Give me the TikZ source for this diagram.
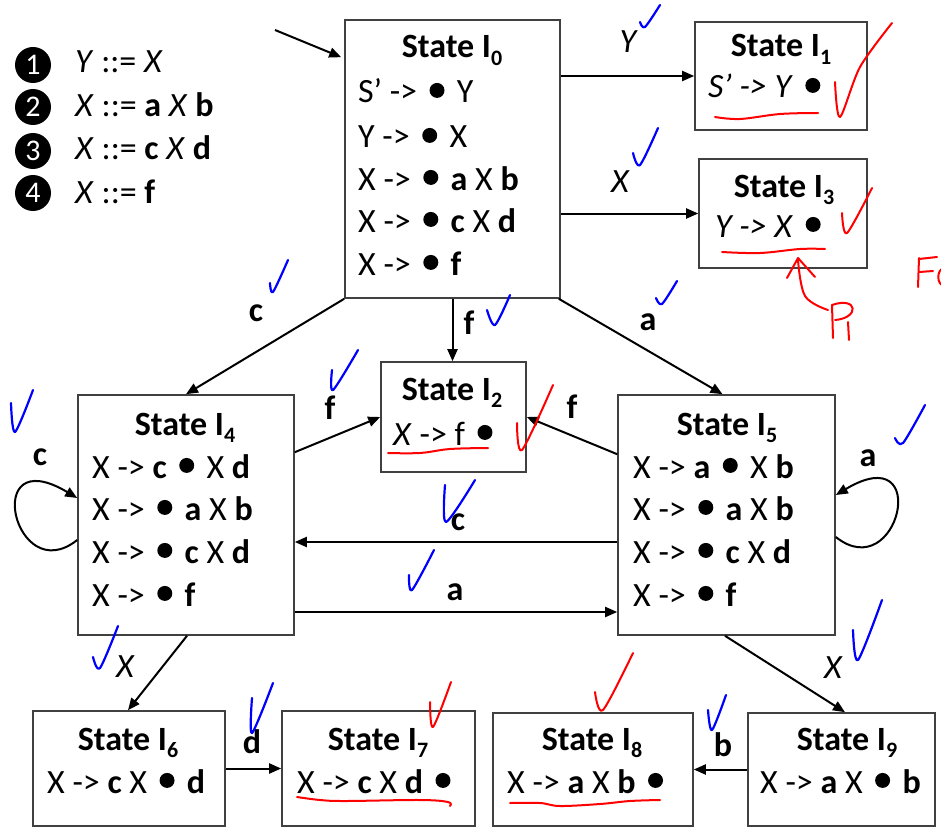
\documentclass[tikz,border=0pt]{standalone}
\usepackage{fontspec}
\setmainfont{Carlito}
\usetikzlibrary{arrows.meta,calc}
\newcommand\fsz{\fontsize{34}{40}\selectfont}
\newcommand\bd{\hspace{0.14em}\tikz[baseline=-0.37em]\fill (0,0) circle (0.22em);\hspace{0.14em}}
\newcommand\sub[1]{\raisebox{-0.22em}{\fontsize{22}{22}\selectfont #1}}
\tikzset{
  box/.style={draw=black!75, line width=1.6pt, rectangle, inner sep=0pt},
  arr/.style={-{Triangle[length=12pt,width=10pt]}, line width=2pt},
  txt/.style={anchor=base west, inner sep=0pt},
  ttl/.style={anchor=base, inner sep=0pt, font=\fsz\bfseries},
  lbl/.style={inner sep=0pt, font=\fsz\bfseries},
  ilbl/.style={inner sep=0pt, font=\fsz\itshape},
  num/.style={circle, fill=black, text=white, minimum size=36pt, inner sep=0pt, font=\fontsize{30}{30}\selectfont},
  bchk/.style={blue, line width=2.2pt, line cap=round, line join=round},
  rchk/.style={red, line width=2pt, line cap=round, line join=round},
}
\begin{document}
\begin{tikzpicture}[x=1pt,y=-1pt,font=\fsz]
\useasboundingbox (0,0) rectangle (941,829);
\fill[white] (0,0) rectangle (941,829);

% legend
\node[num] (n1) at (33,65) {1};
\node[num] (n2) at (33,107) {2};
\node[num] (n3) at (33,151) {3};
\node[num] (n4) at (33,193) {4};
\node[txt] (g1) at (75,73) {\textit{Y} ::= \textit{X}};
\node[txt] (g2) at (75,117) {\textit{X} ::= \textbf{a} \textit{X} \textbf{b}};
\node[txt] (g3) at (75,160) {\textit{X} ::= \textbf{c} \textit{X} \textbf{d}};
\node[txt] (g4) at (75,203) {\textit{X} ::= \textbf{f}};

% boxes
\node[box, minimum width=215pt, minimum height=278pt] (I0) at (452.5,159) {};
\node[box, minimum width=172pt, minimum height=108pt] (I1) at (781,76) {};
\node[box, minimum width=168pt, minimum height=109pt] (I3) at (783,213.5) {};
\node[box, minimum width=145pt, minimum height=110pt] (I2) at (453.5,417) {};
\node[box, minimum width=216pt, minimum height=240pt] (I4) at (186,515) {};
\node[box, minimum width=217pt, minimum height=240pt] (I5) at (726.5,515) {};
\node[box, minimum width=192pt, minimum height=115pt] (I6) at (129,768.5) {};
\node[box, minimum width=193pt, minimum height=115pt] (I7) at (378.5,768.5) {};
\node[box, minimum width=200pt, minimum height=113pt] (I8) at (593,769.5) {};
\node[box, minimum width=187pt, minimum height=113pt] (I9) at (841.5,769.5) {};

% texts
\node[ttl] (t0) at (452,58) {State I\sub{0}};
\node[txt] (a0) at (358,103) {S’ -> \bd{} Y};
\node[txt] (b0) at (358,148) {Y -> \bd{} X};
\node[txt] (c0) at (358,190) {X -> \bd{} \textbf{a} X \textbf{b}};
\node[txt] (d0) at (358,232) {X -> \bd{} \textbf{c} X \textbf{d}};
\node[txt] (e0) at (358,275) {X -> \bd{} \textbf{f}};

\node[ttl] (t1) at (781,57) {State I\sub{1}};
\node[txt] (a1) at (708,98) {\textit{S’ -> Y} \bd};

\node[ttl] (t3) at (784,197) {State I\sub{3}};
\node[txt] (a3) at (715,237) {\textit{Y -> X} \bd};

\node[ttl] (t2) at (452,400) {State I\sub{2}};
\node[txt] (a2) at (393,445) {\textit{X} -> f \bd};

\node[ttl] (t4) at (185,435) {State I\sub{4}};
\node[txt] (a4) at (92,478) {X -> \textbf{c} \bd{} X \textbf{d}};
\node[txt] (b4) at (92,520) {X -> \bd{} \textbf{a} X \textbf{b}};
\node[txt] (c4) at (92,563) {X -> \bd{} \textbf{c} X \textbf{d}};
\node[txt] (d4) at (92,606) {X -> \bd{} \textbf{f}};

\node[ttl] (t5) at (727,435) {State I\sub{5}};
\node[txt] (a5) at (633,478) {X -> \textbf{a} \bd{} X \textbf{b}};
\node[txt] (b5) at (633,520) {X -> \bd{} \textbf{a} X \textbf{b}};
\node[txt] (c5) at (633,563) {X -> \bd{} \textbf{c} X \textbf{d}};
\node[txt] (d5) at (633,606) {X -> \bd{} \textbf{f}};

\node[ttl] (t6) at (128,750) {State I\sub{6}};
\node[txt] (a6) at (47,793) {X -> \textbf{c} X \bd{} \textbf{d}};
\node[ttl] (t7) at (378,750) {State I\sub{7}};
\node[txt] (a7) at (297,793) {X -> \textbf{c} X \textbf{d} \bd};
\node[ttl] (t8) at (592,750) {State I\sub{8}};
\node[txt] (a8) at (507,793) {X -> \textbf{a} X \textbf{b} \bd};
\node[ttl] (t9) at (847,750) {State I\sub{9}};
\node[txt] (a9) at (760,793) {X -> \textbf{a} X \bd{} \textbf{b}};

% edges
\coordinate (st) at (275,30);
\draw[arr] (st) -- ([xshift=-3pt,yshift=-38pt]I0.north west);
\draw[arr] (I1.west -| I0.east) -- (I1.west);
\draw[arr] (I3.west -| I0.east) -- (I3.west);
\draw[arr] (I0.south west) -- (I4.north);
\draw[arr] (I0.south) -- (I0.south |- I2.north);
\draw[arr] ([xshift=-2pt]I0.south east) -- ([xshift=-4pt]I5.north);
\draw[arr] ([yshift=-58pt]I4.north east) -- (I2.west);
\draw[arr] ([yshift=-60pt]I5.north west) -- (I2.east);
\draw[arr] ([yshift=-27pt]I5.west) -- ([yshift=-27pt]I4.east);
\draw[arr] ([yshift=-97pt]I4.east) -- ([yshift=-97pt]I5.west);
\draw[arr] ([yshift=-25pt]I4.west) .. controls +(-63,50) and +(-97,-58) .. ([yshift=17pt]I4.west);
\draw[arr] ([yshift=-22pt]I5.west -| I5.east) .. controls +(63,50) and +(97,-58) .. ([yshift=20pt]I5.west -| I5.east);
\draw[arr] ([xshift=1pt]I4.south) -- ([xshift=-1pt]I6.north);
\draw[arr] ([yshift=0pt]I6.east) -- (I6.east -| I7.west);
\draw[arr] ([xshift=-1.5pt]I5.south) -- ([xshift=3.5pt]I9.north);
\draw[arr] (I9.west) -- (I9.west -| I8.east);

% edge labels
\node[ilbl] (lY) at (628,42) {Y};
\node[ilbl] (lX3) at (620,182) {X};
\node[lbl] (lc0) at (256,313) {c};
\node[lbl] (lf0) at (469,323) {f};
\node[lbl] (la0) at (648,322) {a};
\node[lbl] (lf4) at (330,408) {f};
\node[lbl] (lf5) at (572,407) {f};
\node[lbl] (lc5) at (458,522) {c};
\node[lbl] (la4) at (455,592) {a};
\node[lbl] (lc4) at (40,457) {c};
\node[lbl] (la5) at (868,458) {a};
\node[ilbl] (lX6) at (125,667) {X};
\node[lbl] (ld) at (252,742) {d};
\node[lbl] (lb) at (723,745) {b};
\node[ilbl] (lX9) at (833,668) {X};

% blue ticks
\draw[bchk] plot[smooth,tension=0.5] coordinates {(640,22) (645,27) (660,5)};
\draw[bchk] plot[smooth,tension=0.5] coordinates {(633,153) (640,165) (658,128)};
\draw[bchk] plot[smooth,tension=0.5] coordinates {(270,283) (273,292) (288,260)};
\draw[bchk] plot[smooth,tension=0.5] coordinates {(487,310) (495,325) (510,295)};
\draw[bchk] plot[smooth,tension=0.5] coordinates {(656,298) (662,304) (677,281)};
\draw[bchk] plot[smooth,tension=0.5] coordinates {(332,370) (333,390) (358,350)};
\draw[bchk] plot[smooth,tension=0.5] coordinates {(11,403) (15,432) (33,390)};
\draw[bchk] plot[smooth,tension=0.5] coordinates {(445,485) (446,522) (475,480)};
\draw[bchk] plot[smooth,tension=0.5] coordinates {(409,575) (412,590) (434,550)};
\draw[bchk] plot[smooth,tension=0.5] coordinates {(895,438) (903,443) (925,405)};
\draw[bchk] plot[smooth,tension=0.5] coordinates {(853,630) (858,660) (882,600)};
\draw[bchk] plot[smooth,tension=0.5] coordinates {(93,657) (100,668) (118,626)};
\draw[bchk] plot[smooth,tension=0.5] coordinates {(252,698) (252,733) (273,683)};
\draw[bchk] plot[smooth,tension=0.5] coordinates {(708,710) (712,730) (726,695)};

% red marks
\draw[rchk] plot[smooth,tension=0.6] coordinates {(715,117) (740,119) (780,114) (818,113)};
\draw[rchk] plot[smooth,tension=0.5] coordinates {(835,82) (840,117) (860,67) (892,23)};
\draw[rchk] plot[smooth,tension=0.6] coordinates {(722,252) (760,253) (800,249) (825,249)};
\draw[rchk] plot[smooth,tension=0.5] coordinates {(842,213) (847,233) (872,188)};
\draw[rchk] plot[smooth,tension=0.6] coordinates {(828,310) (805,296) (798,260)};
\draw[rchk] (787,278) -- (798,258) -- (815,277);
\draw[rchk] (832,305) -- (833,338);
\draw[rchk] (832,305) .. controls (858,296) and (860,318) .. (835,320);
\draw[rchk] (848,322) -- (849,340);
\draw[rchk] (919,258) -- (918,287);
\draw[rchk] (919,259) -- (937,257);
\draw[rchk] (919,272) -- (933,271);
\draw[rchk] (945,268) .. controls (936,268) and (936,286) .. (945,286);
\draw[rchk] plot[smooth,tension=0.6] coordinates {(388,453) (420,453) (450,449) (488,448)};
\draw[rchk] plot[smooth,tension=0.5] coordinates {(517,423) (522,450) (553,385)};
\draw[rchk] plot[smooth,tension=0.6] coordinates {(297,797) (320,800) (345,801) (420,800) (448,802) (450,806)};
\draw[rchk] plot[smooth,tension=0.5] coordinates {(430,702) (433,727) (451,682)};
\draw[rchk] plot[smooth,tension=0.6] coordinates {(510,803) (540,803) (560,806) (600,804) (630,801) (660,800)};
\draw[rchk] plot[smooth,tension=0.5] coordinates {(595,692) (603,710) (633,653)};
\end{tikzpicture}
\end{document}
